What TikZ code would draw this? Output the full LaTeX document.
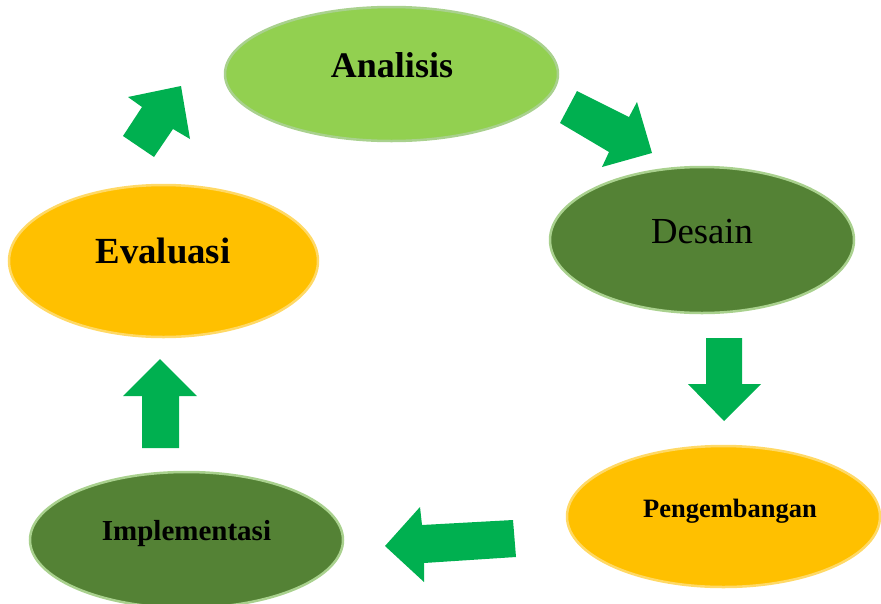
\documentclass[tikz,border=0pt]{standalone}
\usepackage{fontspec}
\setmainfont{Liberation Serif}
\usetikzlibrary{shapes.geometric}
\definecolor{lightgreen}{HTML}{92D050}
\definecolor{darkgreen}{HTML}{548235}
\definecolor{goldfill}{HTML}{FFC000}
\definecolor{arrowgreen}{HTML}{00B050}
\definecolor{paleedge}{HTML}{A9D18E}
\definecolor{goldedge}{HTML}{FFD966}
\begin{document}
\begin{tikzpicture}[x=1pt,y=-1pt,
  phase/.style={ellipse, inner sep=0pt, line width=2.5pt},
  lightphase/.style={phase, fill=lightgreen, draw=paleedge},
  darkphase/.style={phase, fill=darkgreen, draw=paleedge},
  goldphase/.style={phase, fill=goldfill, draw=goldedge},
  lbl/.style={anchor=base, inner sep=0pt, text=black},
  blockarrow/.style={fill=arrowgreen}]
\useasboundingbox (0,0) rectangle (881,603);
\clip (0,0) rectangle (881,603);
% ellipses
\node[lightphase, minimum width=333pt, minimum height=134pt] (analisis) at (391.5,74) {};
\node[darkphase, minimum width=304pt, minimum height=146pt] (desain) at (702,240) {};
\node[goldphase, minimum width=313pt, minimum height=141pt] (pengembangan) at (723.5,516.5) {};
\node[darkphase, minimum width=313pt, minimum height=136pt] (implementasi) at (186.5,540) {};
\node[goldphase, minimum width=309pt, minimum height=152pt] (evaluasi) at (163.5,261) {};
% labels
\node[lbl, font=\fontsize{36}{40}\selectfont\bfseries] (tanalisis) at (392,77) {Analisis};
\node[lbl, font=\fontsize{36.7}{40}\selectfont] (tdesain) at (702,243) {Desain};
\node[lbl, font=\fontsize{26.5}{30}\selectfont\bfseries] (tpengembangan) at (730,517) {Pengembangan};
\node[lbl, font=\fontsize{29}{32}\selectfont\bfseries] (timplementasi) at (186.5,540) {Implementasi};
\node[lbl, font=\fontsize{36.8}{40}\selectfont\bfseries] (tevaluasi) at (163,263) {Evaluasi};
% block arrows
\fill[blockarrow] (577,91) -- (629,117) -- (637,102) -- (652,153) -- (602,167) -- (609,152) -- (560,123) -- cycle;
\fill[blockarrow] (706,338) -- (742,338) -- (742,384) -- (761,384) -- (724,421) -- (688,384) -- (706,384) -- cycle;
\fill[blockarrow] (513,520) -- (422,525) -- (420,507) -- (385,546) -- (424,582) -- (424,563) -- (516,557) -- cycle;
\fill[blockarrow] (142,448) -- (179,448) -- (179,396) -- (197,396) -- (160,359) -- (123,396) -- (142,396) -- cycle;
\fill[blockarrow] (123,136) -- (142,107) -- (128,97) -- (181,86) -- (190,139) -- (173,129) -- (154,157) -- cycle;
\end{tikzpicture}
\end{document}
